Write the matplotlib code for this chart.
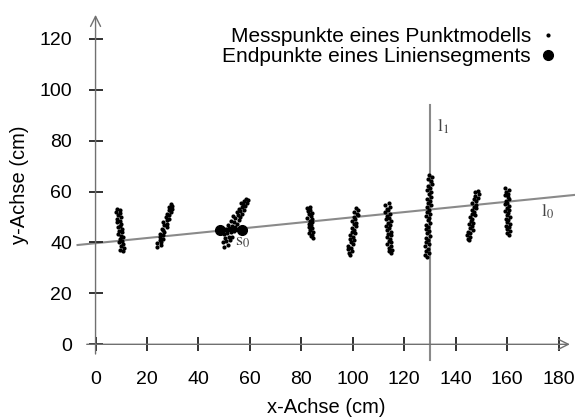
import matplotlib
matplotlib.use('Agg')
import matplotlib.pyplot as plt

plt.rcParams['font.family'] = ['Liberation Sans', 'DejaVu Sans']
plt.rcParams['mathtext.fontset'] = 'stix'

# measured points, one list pair per cluster
a_x = [8.3, 9.7, 8.0, 9.4, 8.8, 10.0, 8.5, 9.5, 8.3, 9.9, 9.4, 8.9, 10.4, 9.3, 10.3, 8.8, 10.0, 10.8, 9.4, 10.4, 9.2, 10.8, 9.9, 11.1, 9.6, 10.7]
a_y = [53.3, 52.7, 52.0, 51.4, 50.6, 50.0, 49.3, 48.6, 48.0, 47.3, 46.6, 46.0, 45.3, 44.6, 44.0, 43.3, 42.6, 42.0, 41.3, 40.6, 40.0, 39.3, 38.6, 38.0, 37.2, 36.6]

b_x = [23.9, 25.4, 23.9, 25.4, 25.0, 26.3, 24.9, 26.1, 25.0, 26.7, 26.4, 25.9, 27.7, 26.6, 27.9, 26.4, 27.8, 28.7, 27.5, 28.6, 27.6, 29.2, 28.6, 29.8, 28.5, 29.7, 29.5]
b_y = [38.4, 38.9, 39.6, 40.2, 40.9, 41.5, 42.2, 42.8, 43.5, 44.1, 44.8, 45.4, 46.1, 46.7, 47.4, 48.0, 48.7, 49.3, 50.0, 50.6, 51.3, 51.9, 52.6, 53.2, 53.9, 54.5, 55.3]

c_x = [50.0, 51.3, 49.6, 50.8, 52.2, 50.3, 51.7, 53.0, 49.8, 51.2, 52.5, 53.7, 50.6, 52.0, 54.3, 53.1, 51.5, 55.0, 53.8, 52.6,
       55.6, 54.4, 56.3, 53.5, 55.2, 57.0, 54.8, 56.0, 57.6, 55.7, 56.9, 58.2, 57.3, 56.4, 58.7, 57.8, 59.2, 58.5]
c_y = [38.4, 38.9, 40.1, 40.6, 40.9, 41.8, 42.3, 42.0, 43.4, 43.8, 44.2, 44.6, 45.1, 45.7, 45.9, 46.6, 47.0, 47.4, 47.9, 48.3,
       48.8, 49.5, 49.9, 50.3, 50.8, 51.2, 51.9, 52.4, 52.8, 53.3, 54.0, 54.2, 55.1, 55.5, 55.6, 56.3, 56.7, 57.1]

d_x = [83.5, 82.2, 83.2, 82.6, 84.0, 82.9, 83.6, 82.4, 84.0, 83.3, 84.3, 82.9, 83.7, 82.8, 84.2, 83.3, 84.7, 83.1, 84.2, 83.8, 84.6]
d_y = [54.1, 53.5, 52.9, 52.3, 51.6, 51.0, 50.4, 49.8, 49.2, 48.6, 47.9, 47.3, 46.7, 46.1, 45.5, 44.9, 44.2, 43.6, 43.0, 42.4, 41.7]

e_x = [101.1, 102.1, 100.4, 101.5, 102.0, 100.3, 100.9, 99.7, 101.2, 100.3, 101.2, 99.6, 100.6, 99.8, 100.9, 99.0, 99.9, 99.1,
       100.4, 99.3, 99.9, 98.3, 99.4, 98.3, 99.6, 98.5, 99.1]
e_y = [53.4, 52.7, 52.0, 51.3, 50.6, 49.9, 49.2, 48.5, 47.8, 47.1, 46.4, 45.7, 45.0, 44.3, 43.6, 42.9, 42.2, 41.5,
       40.8, 40.1, 39.4, 38.7, 38.0, 37.3, 36.6, 35.9, 35.2]

f_x = [113.9, 112.6, 114.4, 113.2, 113.8, 112.6, 114.3, 113.2, 114.0, 113.0, 114.8, 113.6, 114.5, 113.0, 114.1, 113.4, 114.8,
       113.7, 115.0, 113.5, 114.6, 114.1, 115.0, 113.4, 114.8, 114.1, 115.2, 113.9, 114.7]
f_y = [55.4, 54.7, 54.0, 53.3, 52.6, 51.9, 51.2, 50.5, 49.8, 49.1, 48.4, 47.7, 47.0, 46.3, 45.6, 44.9, 44.2,
       43.5, 42.8, 42.1, 41.4, 40.7, 40.0, 39.3, 38.6, 37.9, 37.2, 36.5, 35.9]

g_x = [129.7, 130.7, 129.1, 130.3, 130.8, 129.2, 130.0, 128.9, 130.3, 129.5, 130.5, 128.9, 129.9, 129.2, 130.5, 128.7, 129.6,
       128.9, 130.1, 128.5, 129.7, 129.2, 130.1, 128.6, 129.4, 128.4, 129.7, 128.8, 129.9, 128.3, 129.3, 128.5, 129.7,
       128.0, 129.3, 128.6, 129.5, 128.1, 128.8]
g_y = [66.5, 65.7, 64.8, 64.0, 63.1, 62.3, 61.4, 60.6, 59.7, 58.9, 58.0, 57.2, 56.3, 55.5, 54.6, 53.8, 52.9,
       52.1, 51.2, 50.4, 49.5, 48.7, 47.8, 47.0, 46.1, 45.3, 44.4, 43.6, 42.7, 41.9, 41.0, 40.2, 39.3,
       38.5, 37.6, 36.8, 35.9, 35.1, 34.2]

h_x = [148.8, 147.4, 148.9, 147.7, 148.8, 147.2, 147.9, 146.5, 147.9, 147.2, 148.0, 146.3, 147.2, 146.3, 147.7, 145.7,
       146.5, 145.9, 146.9, 145.1, 146.5, 145.6, 146.6, 144.9, 145.7, 144.5, 145.7, 144.7, 145.1]
h_y = [60.4, 59.7, 59.0, 58.3, 57.6, 56.9, 56.2, 55.5, 54.8, 54.1, 53.4, 52.7, 52.0, 51.3, 50.6, 49.9,
       49.2, 48.5, 47.8, 47.1, 46.4, 45.7, 45.0, 44.3, 43.6, 42.9, 42.2, 41.5, 40.8]

i_x = [159.2, 160.6, 159.7, 160.4, 159.0, 160.2, 160.8, 159.5, 160.1, 159.2, 160.7, 159.8, 160.7, 159.1, 160.5, 160.1,
       161.1, 159.5, 160.4, 159.8, 161.1, 159.4, 160.8, 160.1, 161.1, 159.8, 160.7]
i_y = [61.3, 60.6, 59.9, 59.2, 58.5, 57.8, 57.1, 56.4, 55.7, 55.0, 54.3, 53.6, 52.9, 52.2, 51.5, 50.8,
       50.1, 49.4, 48.7, 48.0, 47.3, 46.6, 45.9, 45.2, 44.5, 43.8, 43.1]

# line segment s0 endpoints
seg_x = [48.4, 56.8]
seg_y = [44.9, 44.9]

# lines l0 and l1
l0_x = [-7.0, 186.5]
l0_y = [39.0, 58.7]
l1_x = [130, 130]
l1_y = [-6.2, 94.0]

xticks = [0, 20, 40, 60, 80, 100, 120, 140, 160, 180]
yticks = [0, 20, 40, 60, 80, 100, 120]

pts_x = a_x + b_x + c_x + d_x + e_x + f_x + g_x + h_x + i_x
pts_y = a_y + b_y + c_y + d_y + e_y + f_y + g_y + h_y + i_y

fig = plt.figure(figsize=(5.75, 4.19), dpi=100)
ax = fig.add_axes([76 / 575, 57 / 419, 499 / 575, 354 / 419])
ax.set_xlim(-7.6, 186.4)
ax.set_ylim(-6.95, 132.1)

ax.plot(l0_x, l0_y, color='#8a8a8a', lw=1.5, zorder=1)
ax.plot(l1_x, l1_y, color='#8a8a8a', lw=1.5, zorder=1)

ax.plot(pts_x, pts_y, 'o', ms=3.0, color='black', mec='none', zorder=3,
        label='Messpunkte eines Punktmodells')
ax.plot(seg_x, seg_y, '-', color='black', lw=3, zorder=4)
ax.plot(seg_x, seg_y, 'o', ms=7, color='black', zorder=4, label='Endpunkte eines Liniensegments')

ax.text(132.7, 83.5, r'$\mathrm{l}_{1}$', fontsize=13, color='#444444')
ax.text(173.0, 50.0, r'$\mathrm{l}_{0}$', fontsize=13, color='#444444')
ax.text(54.2, 38.6, r'$\mathrm{s}_{0}$', fontsize=13, color='#444444')

# axes with arrows through the origin
for s in ['top', 'right']:
    ax.spines[s].set_visible(False)
ax.spines['bottom'].set_position(('data', 0))
ax.spines['left'].set_position(('data', 0))
ax.spines['bottom'].set_color('none')
ax.spines['left'].set_color('none')
ax.annotate('', xy=(185.5, 0), xytext=(-4.5, 0),
            arrowprops=dict(arrowstyle='->,head_length=0.6,head_width=0.3', color='#707070', lw=1, mutation_scale=12))
ax.annotate('', xy=(0, 130.5), xytext=(0, -4.9),
            arrowprops=dict(arrowstyle='->,head_length=0.6,head_width=0.3', color='#707070', lw=1, mutation_scale=12))

ax.set_xticks(xticks)
ax.set_yticks(yticks)
ax.tick_params(axis='both', direction='inout', length=10, width=1.3, color='#222222', labelsize=14)
ax.tick_params(axis='x', pad=14)
ax.tick_params(axis='y', pad=12)

fig.text(326 / 575, 1 - 407 / 419, 'x-Achse (cm)', ha='center', va='center', fontsize=14.5)
fig.text(20 / 575, 1 - 185 / 419, 'y-Achse (cm)', ha='center', va='center', rotation=90, fontsize=14.5)

ax.legend(loc='upper right', bbox_to_anchor=(558 / 575, 1 - 27 / 419), bbox_transform=fig.transFigure,
          frameon=False, markerfirst=False, borderpad=0, handlelength=1, handletextpad=0.3,
          labelspacing=0.05, fontsize=15, borderaxespad=0)

fig.savefig('out.png', dpi=100)
